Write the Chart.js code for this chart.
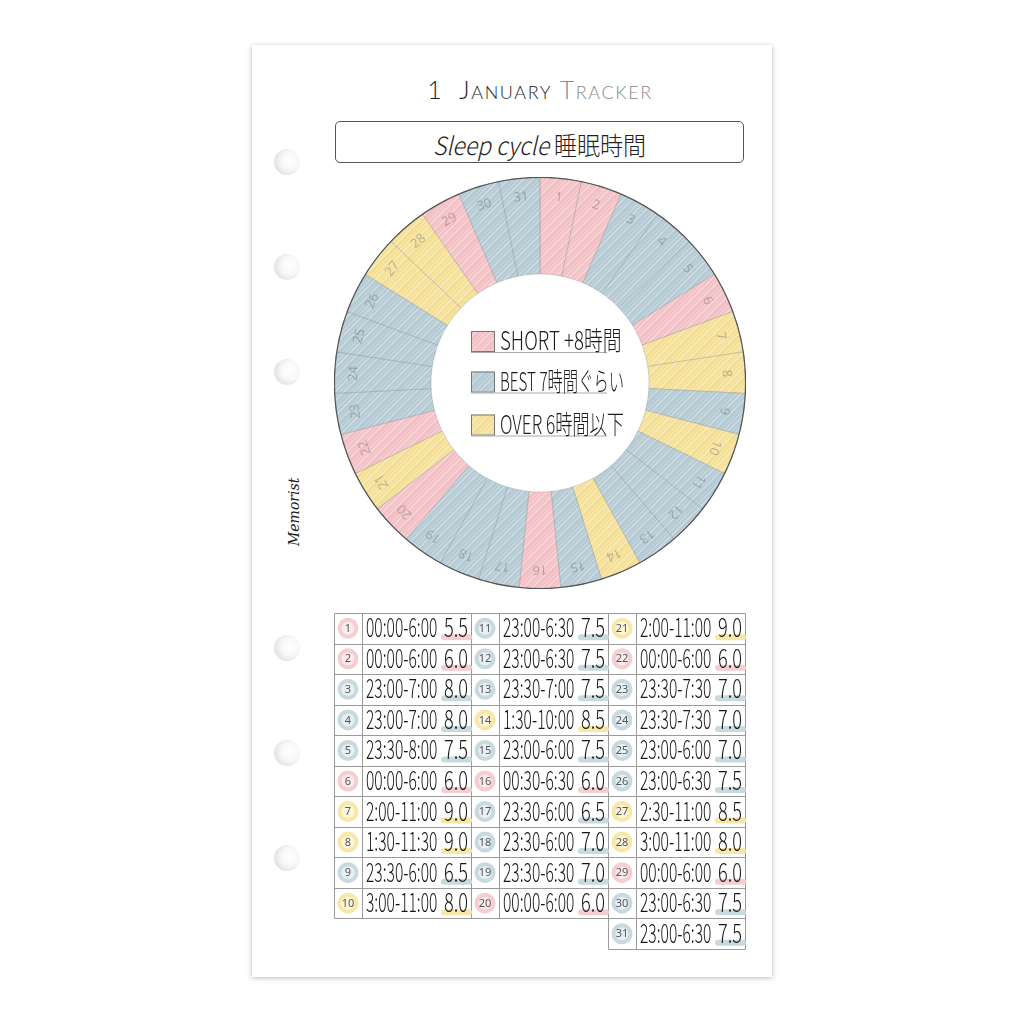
<!DOCTYPE html>
<html>
<head>
<meta charset="utf-8">
<script src="https://cdn.jsdelivr.net/npm/chart.js@4.4.0/dist/chart.umd.min.js"></script>
<style>
  html, body { margin: 0; padding: 0; background: #fff; }
  body { width: 1024px; height: 1024px; position: relative; overflow: hidden; font-family: "Noto Sans", sans-serif; }
  #page {
    position: absolute; left: 252px; top: 45px; width: 520px; height: 932px;
    background: #fff; box-shadow: 0 1px 5px rgba(0,0,0,0.28);
  }
  .hole {
    position: absolute; left: 274px; width: 26px; height: 26px; border-radius: 50%;
    background: radial-gradient(circle at 62% 45%, #fff 0%, #f8f8f8 40%, #dcdcdc 85%, #c8c8c8 100%);
  }
  #title {
    position: absolute; left: 340px; width: 400px; top: 74px; text-align: center;
    font-family: Lato, sans-serif; font-weight: 300; font-size: 25px; letter-spacing: 1.6px;
    color: #1e1e1e; font-variant: small-caps; white-space: nowrap;
  }
  #title .gray { color: #8a8a8a; }
  #box {
    position: absolute; left: 335px; top: 121px; width: 407px; height: 40px;
    border: 1px solid #555; border-radius: 5px; box-sizing: content-box;
  }
  #boxText {
    position: absolute; left: 0; right: 0; top: 4px; text-align: center;
    font-family: "Noto Sans CJK JP", sans-serif; font-weight: 300; font-size: 25px; color: #222;
    white-space: nowrap; transform: scaleX(0.92);
  }
  #boxText i { font-style: italic; }
  #brand {
    position: absolute; left: 262px; top: 506px; width: 64px; text-align: center;
    transform: rotate(-90deg); font-family: "DejaVu Serif", serif; font-style: italic;
    font-size: 14px; color: #222;
  }
  #donut { position: absolute; left: 334px; top: 177px; }
  #table { position: absolute; left: 330px; top: 609px; }
</style>
</head>
<body>
<div id="page"></div>
<div class="hole" style="top:149px"></div>
<div class="hole" style="top:254px"></div>
<div class="hole" style="top:359px"></div>
<div class="hole" style="top:635px"></div>
<div class="hole" style="top:740px"></div>
<div class="hole" style="top:845px"></div>
<div id="title">1&nbsp;&nbsp;January <span class="gray">Tracker</span></div>
<div id="box"><div id="boxText"><i>Sleep cycle</i> 睡眠時間</div></div>
<div id="brand">Memorist</div>
<canvas id="donut" width="412" height="412"></canvas>
<canvas id="table" width="419" height="344"></canvas>
<script>
const dayLabels = ["1","2","3","4","5","6","7","8","9","10","11","12","13","14","15","16",
  "17","18","19","20","21","22","23","24","25","26","27","28","29","30","31"];
const sleepTimes = ["00:00-6:00","00:00-6:00","23:00-7:00","23:00-7:00","23:30-8:00","00:00-6:00",
  "2:00-11:00","1:30-11:30","23:30-6:00","3:00-11:00","23:00-6:30","23:00-6:30","23:30-7:00",
  "1:30-10:00","23:00-6:00","00:30-6:30","23:30-6:00","23:30-6:00","23:30-6:30","00:00-6:00",
  "2:00-11:00","00:00-6:00","23:30-7:30","23:30-7:30","23:00-6:00","23:00-6:30","2:30-11:00",
  "3:00-11:00","00:00-6:00","23:00-6:30","23:00-6:30"];
const sleepHours = [5.5,6.0,8.0,8.0,7.5,6.0,9.0,9.0,6.5,8.0,7.5,7.5,7.5,8.5,7.5,6.0,
  6.5,7.0,7.0,6.0,9.0,6.0,7.0,7.0,7.0,7.5,8.5,8.0,6.0,7.5,7.5];
const sleepType = ["short","short","best","best","best","short","over","over","best","over",
  "best","best","best","over","best","short","best","best","best","short","over","short",
  "best","best","best","best","over","over","short","best","best"];
const legendKeys = ["short","best","over"];
const legendLabels = ["SHORT +8時間","BEST 7時間ぐらい","OVER 6時間以下"];

const fillColors = { short: "#f3c2c7", best: "#b6cbd4", over: "#f5e099" };
const dotColors = { short: "#f6cdd0", best: "#c9d9e0", over: "#f8e8a8" };
const handFont = (px) => `300 ${px}px "Noto Sans CJK JP", "Noto Sans", sans-serif`;

// pencil-like diagonal streaks over a flat colour
const pencil = (base) => {
  const s = 24;
  const c = document.createElement("canvas");
  c.width = s; c.height = s;
  const g = c.getContext("2d");
  g.fillStyle = base;
  g.fillRect(0, 0, s, s);
  const streaks = [[0, 0.45, 1.2], [5, 0.25, 0.8], [9, 0.35, 1.5], [15, 0.2, 0.7], [19, 0.4, 1]];
  [-s, 0, s].forEach((k) => {
    streaks.forEach(([off, a, w]) => {
      g.beginPath();
      g.moveTo(k + off, s);
      g.lineTo(k + off + s, 0);
      g.strokeStyle = `rgba(255,255,255,${a})`;
      g.lineWidth = w;
      g.stroke();
    });
    g.beginPath();
    g.moveTo(k + 12, s);
    g.lineTo(k + 12 + s, 0);
    g.strokeStyle = "rgba(90,100,110,0.08)";
    g.lineWidth = 0.8;
    g.stroke();
  });
  return g.createPattern(c, "repeat");
};
const fillPatterns = {};
Object.keys(fillColors).forEach((k) => { fillPatterns[k] = pencil(fillColors[k]); });

// draw text squeezed horizontally, like narrow handwriting
const drawNarrow = (ctx, text, x, y, maxW, baseScale, align) => {
  const w = ctx.measureText(text).width;
  const s = Math.min(baseScale, maxW / w);
  ctx.save();
  ctx.translate(x, y);
  ctx.scale(s, 1);
  ctx.textAlign = align || "left";
  ctx.fillText(text, 0, 0);
  ctx.restore();
  return w * s;
};

const donutDecor = {
  id: "donutDecor",
  afterDatasetsDraw(chart) {
    const ctx = chart.ctx;
    const arcs = chart.getDatasetMeta(0).data;
    const cx = arcs[0].x, cy = arcs[0].y, outer = arcs[0].outerRadius;
    ctx.save();
    // outer rim
    ctx.beginPath();
    ctx.arc(cx, cy, outer, 0, Math.PI * 2);
    ctx.strokeStyle = "#555";
    ctx.lineWidth = 1.3;
    ctx.stroke();
    // day numbers
    ctx.fillStyle = "rgba(70,80,85,0.33)";
    ctx.font = '13px "Noto Sans", sans-serif';
    ctx.textAlign = "center";
    ctx.textBaseline = "middle";
    arcs.forEach((arc, i) => {
      const mid = (arc.startAngle + arc.endAngle) / 2;
      const r = outer - 19;
      ctx.save();
      ctx.translate(cx + Math.cos(mid) * r, cy + Math.sin(mid) * r);
      ctx.rotate(mid + Math.PI / 2);
      ctx.fillText(chart.data.labels[i], 0, 0);
      ctx.restore();
    });
    // legend in the hole
    const rowY = [-42, -1.5, 41.5];
    legendKeys.forEach((key, i) => {
      const y = cy + rowY[i];
      ctx.fillStyle = fillPatterns[key];
      ctx.fillRect(cx - 69, y - 10, 24, 20);
      ctx.strokeStyle = "#777";
      ctx.lineWidth = 1;
      ctx.strokeRect(cx - 68.5, y - 9.5, 23, 20);
      ctx.beginPath();
      ctx.moveTo(cx - 69, y + 11.5);
      ctx.lineTo(cx + 67, y + 11.5);
      ctx.strokeStyle = "#aaa";
      ctx.stroke();
      ctx.fillStyle = "#1a1a1a";
      ctx.font = handFont(26);
      ctx.textBaseline = "alphabetic";
      drawNarrow(ctx, legendLabels[i], cx - 40, y + 9, 124, 0.72);
    });
    ctx.restore();
  }
};

new Chart(document.getElementById("donut"), {
  type: "doughnut",
  data: {
    labels: dayLabels,
    datasets: [{
      data: dayLabels.map(() => 1),
      backgroundColor: sleepType.map((t) => fillPatterns[t]),
      borderColor: "rgba(110,120,125,0.35)",
      borderWidth: 0.8,
      hoverOffset: 0
    }]
  },
  options: {
    responsive: false,
    animation: false,
    cutout: "53%",
    layout: { padding: 0 },
    plugins: { legend: { display: false }, tooltip: { enabled: false } }
  },
  plugins: [donutDecor]
});

// table: 3 blocks of 10 days, day 31 under the third block
const numFrac = 28 / 137;
const cellOf = (i) => (i < 30 ? { block: Math.floor(i / 10), row: i % 10 } : { block: 2, row: 10 });

const tableDecor = {
  id: "tableDecor",
  beforeDatasetsDraw(chart) {
    const ctx = chart.ctx;
    const xs = chart.scales.x, ys = chart.scales.y;
    ctx.save();
    ctx.strokeStyle = "#9a9a9a";
    ctx.lineWidth = 1;
    const line = (x1, y1, x2, y2) => {
      ctx.beginPath();
      ctx.moveTo(Math.round(x1) + 0.5, Math.round(y1) + 0.5);
      ctx.lineTo(Math.round(x2) + 0.5, Math.round(y2) + 0.5);
      ctx.stroke();
    };
    for (let r = 0; r <= 10; r++) line(xs.getPixelForValue(0), ys.getPixelForValue(r), xs.getPixelForValue(3), ys.getPixelForValue(r));
    line(xs.getPixelForValue(2), ys.getPixelForValue(11), xs.getPixelForValue(3), ys.getPixelForValue(11));
    [0, numFrac, 1, 1 + numFrac, 2, 2 + numFrac, 3].forEach((v) => {
      line(xs.getPixelForValue(v), ys.getPixelForValue(0), xs.getPixelForValue(v), ys.getPixelForValue(v >= 2 ? 11 : 10));
    });
    // colour marks under the hours
    sleepHours.forEach((h, i) => {
      const c = cellOf(i);
      const xr = xs.getPixelForValue(c.block + 1) - 3;
      const y = ys.getPixelForValue(c.row + 0.5) + 9;
      ctx.beginPath();
      ctx.moveTo(xr - 24, y);
      ctx.lineTo(xr + 1, y);
      ctx.strokeStyle = dotColors[sleepType[i]];
      ctx.lineWidth = 6;
      ctx.lineCap = "round";
      ctx.stroke();
    });
    ctx.restore();
  },
  afterDatasetsDraw(chart) {
    const ctx = chart.ctx;
    const xs = chart.scales.x, ys = chart.scales.y;
    ctx.save();
    dayLabels.forEach((d, i) => {
      const c = cellOf(i);
      const cxp = xs.getPixelForValue(c.block + numFrac / 2);
      const cyp = ys.getPixelForValue(c.row + 0.5);
      ctx.beginPath();
      ctx.arc(cxp, cyp, 6.5, 0, Math.PI * 2);
      ctx.fillStyle = "rgba(255,255,255,0.6)";
      ctx.fill();
      ctx.fillStyle = "#555";
      ctx.font = '11px "Noto Sans", sans-serif';
      ctx.textAlign = "center";
      ctx.textBaseline = "middle";
      ctx.fillText(d, cxp, cyp + 0.5);
      ctx.textBaseline = "alphabetic";
      ctx.fillStyle = "#151515";
      ctx.font = handFont(26);
      const left = xs.getPixelForValue(c.block + numFrac) + 4;
      const right = xs.getPixelForValue(c.block + 1) - 3;
      drawNarrow(ctx, sleepTimes[i], left, cyp + 9, 78, 0.6, "left");
      drawNarrow(ctx, sleepHours[i].toFixed(1), right, cyp + 9, 26, 0.7, "right");
    });
    ctx.restore();
  }
};

new Chart(document.getElementById("table"), {
  type: "scatter",
  data: {
    datasets: [{
      data: dayLabels.map((d, i) => {
        const c = cellOf(i);
        return { x: c.block + numFrac / 2, y: c.row + 0.5 };
      }),
      backgroundColor: sleepType.map((t) => dotColors[t]),
      borderWidth: 0,
      pointRadius: 10.5,
      pointHoverRadius: 10.5
    }]
  },
  options: {
    responsive: false,
    animation: false,
    layout: { padding: 4, autoPadding: false },
    scales: {
      x: { type: "linear", min: 0, max: 3, display: false },
      y: { type: "linear", min: 0, max: 11, reverse: true, display: false }
    },
    plugins: { legend: { display: false }, tooltip: { enabled: false } }
  },
  plugins: [tableDecor]
});
</script>
</body>
</html>
